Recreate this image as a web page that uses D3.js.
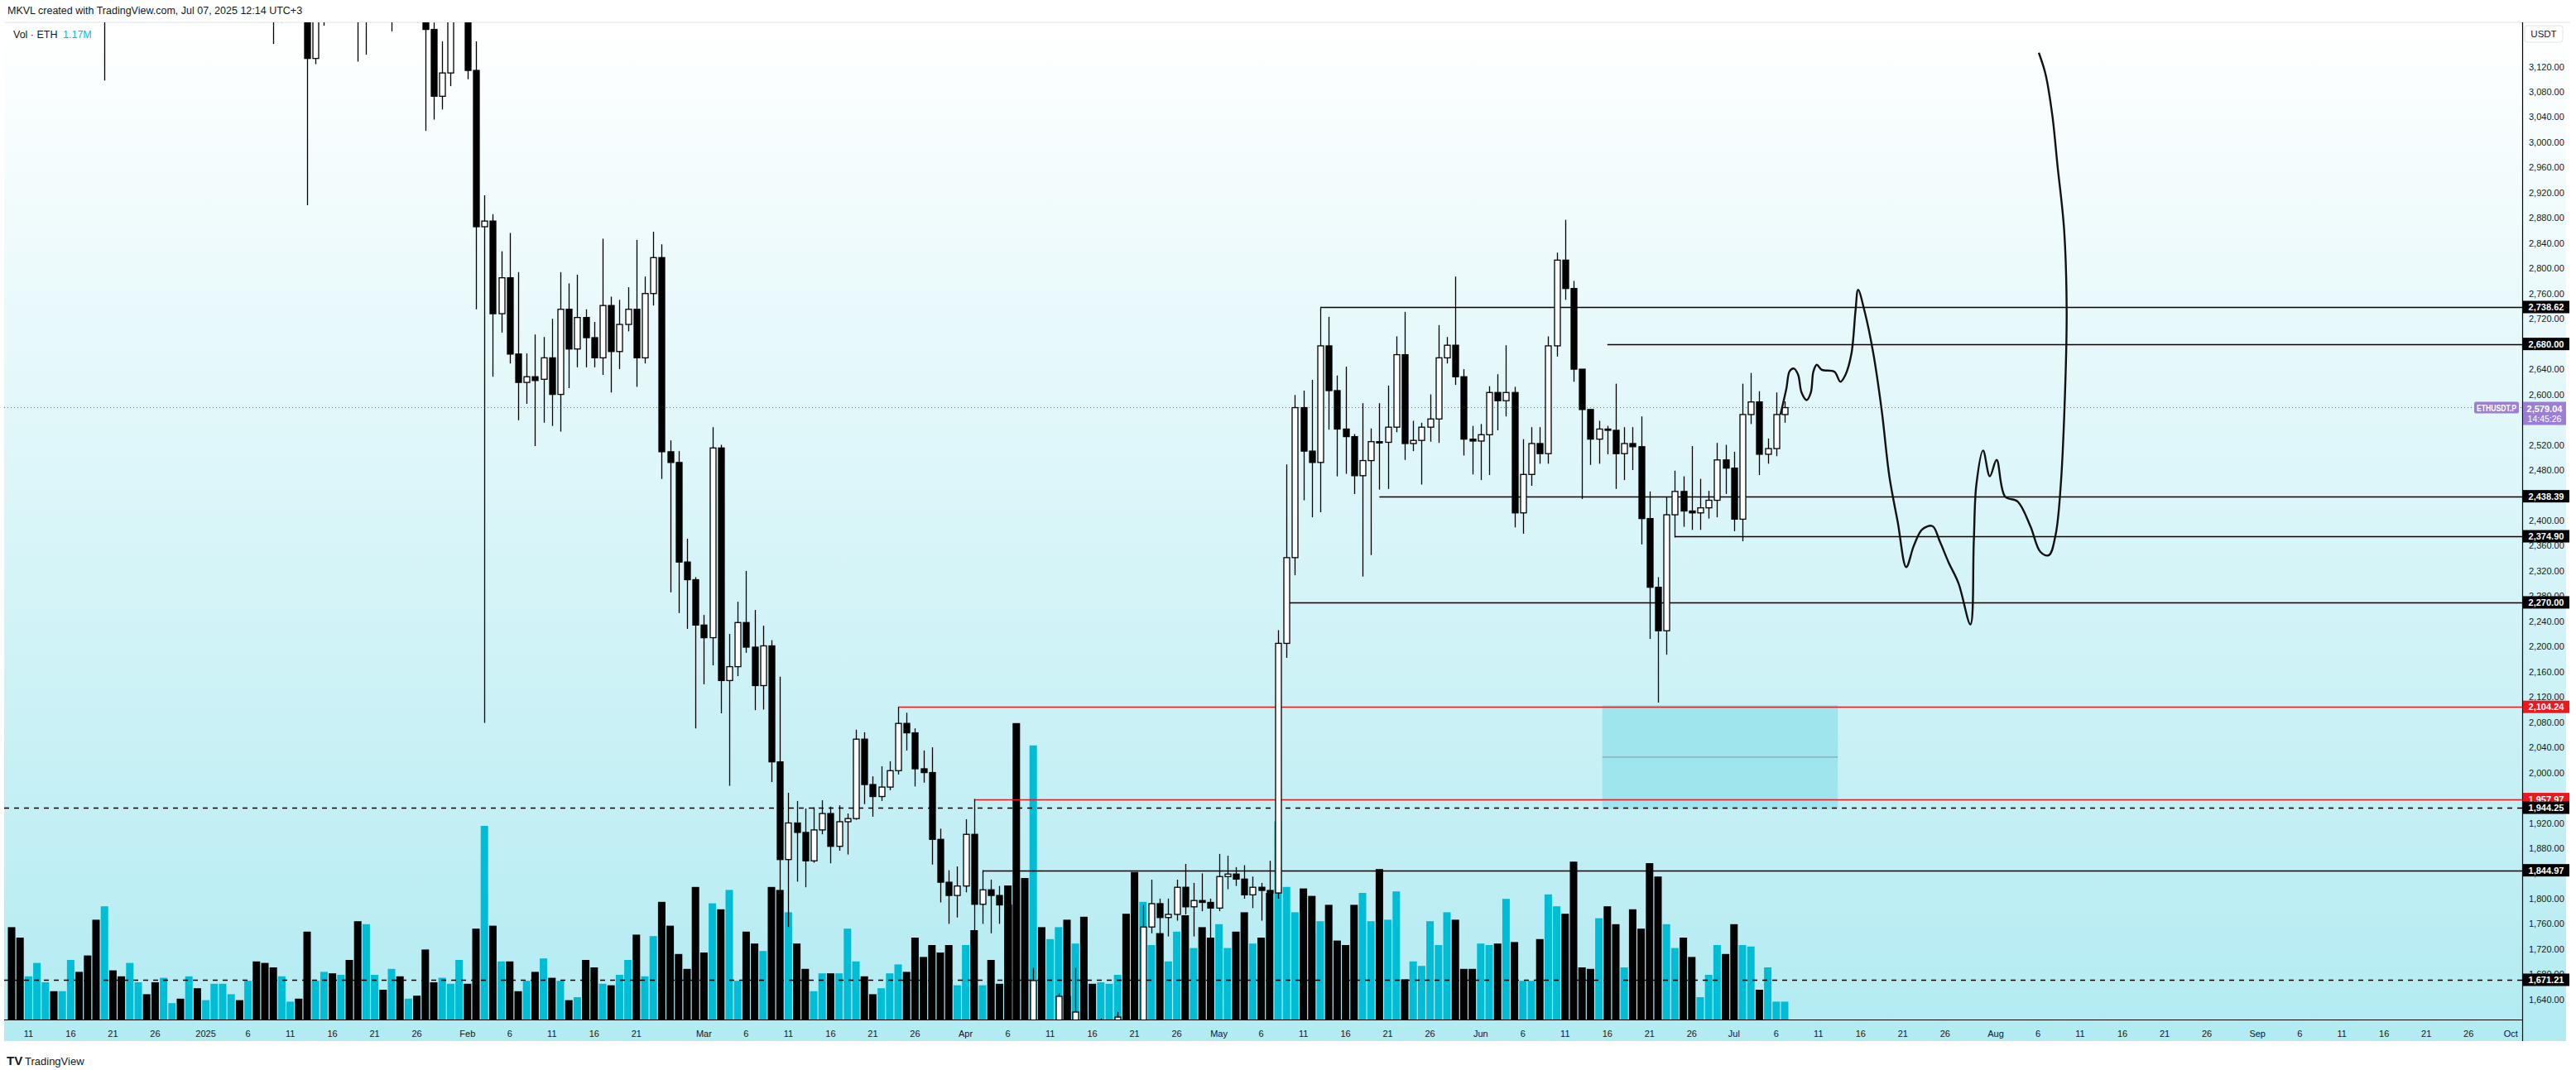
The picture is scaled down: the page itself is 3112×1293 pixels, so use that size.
<!DOCTYPE html>
<html>
<head>
<meta charset="utf-8">
<script src="https://cdn.jsdelivr.net/npm/d3@7"></script>
<style>
  body { margin: 0; background: #fff; }
  text { font-family: "Liberation Sans", "DejaVu Sans", sans-serif; }
</style>
</head>
<body>
<script>
// daily candles from 2024-12-09, [open, high, low, close]
var firstDay = new Date(2024, 11, 9);
var ohlc = [
  [4000,4010,3510,3710],[3710,3830,3515,3630],[3630,3850,3610,3835],[3835,3990,3830,3880],[3880,3945,3840,3905],
  [3905,3935,3850,3870],[3870,3970,3830,3960],[3960,4107,3910,3987],[3987,4045,3880,3890],[3890,3905,3620,3630],
  [3630,3710,3340,3420],[3420,3500,3098,3470],[3470,3560,3300,3330],[3330,3400,3240,3280],[3280,3455,3220,3420],
  [3420,3520,3380,3490],[3490,3505,3420,3480],[3480,3490,3300,3330],[3330,3460,3310,3330],[3330,3420,3320,3400],
  [3400,3410,3320,3355],[3355,3430,3300,3360],[3360,3425,3320,3330],[3330,3410,3320,3355],[3355,3490,3350,3450],
  [3450,3620,3440,3610],[3610,3670,3590,3660],[3660,3670,3600,3635],[3635,3740,3620,3690],[3690,3700,3355,3380],
  [3380,3410,3210,3325],[3325,3330,3156,3220],[3220,3320,3190,3265],[3265,3300,3230,3280],[3280,3300,3220,3265],
  [3265,3335,2900,3133],[3133,3240,3124,3225],[3225,3470,3185,3450],[3450,3460,3270,3310],[3310,3520,3300,3475],
  [3475,3490,3240,3300],[3300,3445,3128,3215],[3215,3450,3139,3280],[3280,3360,3210,3325],[3325,3370,3230,3240],
  [3240,3345,3176,3335],[3335,3430,3280,3310],[3310,3360,3290,3320],[3320,3350,3190,3240],[3240,3260,3018,3179],
  [3179,3190,3036,3073],[3073,3160,3052,3110],[3110,3280,3089,3250],[3250,3440,3250,3300],[3300,3320,3100,3114],
  [3114,3160,2735,2866],[2866,2916,2079,2875],[2875,2886,2628,2728],[2728,2827,2698,2785],[2785,2856,2649,2664],
  [2664,2794,2559,2619],[2619,2665,2585,2628],[2628,2695,2518,2622],[2624,2691,2555,2658],[2658,2720,2550,2600],
  [2600,2794,2541,2735],[2735,2776,2610,2672],[2672,2790,2643,2722],[2722,2735,2643,2690],[2690,2715,2643,2658],
  [2658,2847,2631,2741],[2741,2755,2603,2668],[2668,2750,2640,2711],[2711,2770,2700,2735],[2735,2845,2612,2658],
  [2658,2787,2649,2760],[2760,2858,2741,2817],[2817,2838,2466,2509],[2509,2527,2286,2492],[2492,2510,2253,2334],
  [2334,2371,2228,2306],[2306,2310,2070,2234],[2234,2250,2140,2214],[2214,2548,2170,2515],[2515,2520,2094,2146],
  [2146,2220,1979,2168],[2168,2271,2153,2238],[2238,2320,2190,2199],[2199,2258,2099,2138],[2138,2233,2100,2201],
  [2201,2210,1985,2017],[2017,2152,1781,1862],[1862,1968,1755,1920],[1920,1955,1827,1905],[1905,1943,1818,1860],
  [1860,1945,1857,1909],[1909,1956,1902,1935],[1935,1946,1856,1883],[1883,1948,1876,1922],[1922,1935,1870,1927],
  [1927,2068,1925,2053],[2053,2064,1950,1981],[1981,1994,1930,1962],[1962,2010,1955,1977],[1977,2018,1972,2003],
  [2003,2104,1997,2078],[2078,2095,2035,2063],[2063,2070,1978,2006],[2006,2035,1984,2000],[2000,2040,1854,1894],
  [1894,1911,1794,1826],[1826,1845,1760,1805],[1805,1851,1770,1820],[1820,1926,1810,1902],[1902,1958,1750,1791],
  [1791,1845,1760,1814],[1814,1830,1745,1805],[1805,1820,1760,1790],[1790,1815,1540,1580],[1580,1640,1410,1555],
  [1555,1620,1450,1470],[1470,1690,1385,1670],[1670,1675,1470,1520],[1520,1595,1500,1565],[1565,1650,1540,1645],
  [1645,1690,1570,1595],[1595,1690,1590,1620],[1620,1650,1575,1585],[1585,1610,1535,1577],[1577,1610,1565,1585],
  [1585,1600,1570,1590],[1590,1620,1585,1612],[1612,1618,1570,1587],[1587,1660,1570,1580],[1580,1790,1575,1755],
  [1755,1830,1745,1792],[1792,1800,1740,1770],[1770,1800,1740,1775],[1775,1830,1765,1818],[1818,1855,1775,1787],
  [1787,1825,1740,1797],[1797,1840,1780,1794],[1794,1800,1730,1785],[1785,1871,1780,1835],[1835,1868,1815,1839],
  [1839,1850,1820,1831],[1831,1853,1800,1806],[1806,1835,1785,1818],[1818,1825,1765,1813],[1813,1860,1780,1809],
  [1809,2226,1800,2205],[2205,2489,2182,2341],[2341,2599,2313,2579],[2579,2606,2432,2510],[2510,2623,2405,2492],
  [2492,2737,2413,2677],[2677,2723,2544,2606],[2606,2630,2470,2545],[2545,2644,2474,2533],[2533,2537,2442,2471],
  [2471,2586,2311,2495],[2495,2546,2345,2525],[2525,2586,2449,2524],[2524,2614,2450,2548],[2548,2692,2540,2663],
  [2663,2731,2496,2522],[2522,2558,2510,2527],[2527,2555,2457,2548],[2548,2600,2525,2561],[2561,2710,2523,2658],
  [2658,2691,2649,2678],[2678,2787,2615,2628],[2628,2640,2503,2529],[2529,2550,2473,2526],[2526,2553,2464,2536],
  [2536,2613,2472,2603],[2603,2632,2543,2590],[2590,2678,2565,2603],[2603,2612,2389,2412],[2412,2529,2379,2473],
  [2473,2548,2455,2522],[2522,2548,2490,2506],[2506,2692,2490,2677],[2677,2825,2660,2813],[2813,2877,2750,2768],
  [2768,2780,2620,2640],[2640,2640,2434,2576],[2576,2576,2488,2529],[2529,2558,2490,2545],[2545,2550,2505,2543],
  [2543,2617,2450,2506],[2506,2548,2464,2522],[2522,2548,2480,2517],[2517,2565,2362,2403],[2403,2446,2212,2294],
  [2294,2310,2111,2225],[2225,2438,2187,2409],[2409,2479,2373,2446],[2446,2470,2390,2415],[2415,2518,2385,2412],
  [2412,2466,2385,2420],[2420,2447,2403,2432],[2432,2523,2405,2496],[2496,2520,2442,2483],[2483,2509,2383,2402],
  [2402,2617,2367,2568],[2568,2634,2553,2588],[2588,2605,2472,2505],[2505,2530,2490,2514],[2514,2603,2502,2568],
  [2568,2589,2555,2579]
];
// volume bar tops, turned into million ETH
var volBarTops = [
  480,522,660,612,683,716,714,600,642,585,453,405,639,660,612,681,726,683,666,756,
  744,663,705,747,689,686,726,746,675,606,612,627,663,753,744,501,678,645,648,657,
  603,459,474,657,711,633,663,741,732,561,681,666,690,603,687,486,117,477,606,606,
  714,675,642,594,666,675,747,738,603,630,689,692,654,600,507,660,513,393,477,579,
  636,336,576,396,417,345,678,501,543,566,339,345,429,543,633,717,651,648,648,486,
  606,660,726,702,650,616,645,522,588,546,573,549,693,549,495,693,600,690,333,-260,
  306,-176,483,527,480,456,540,443,689,683,690,655,432,285,390,547,506,609,500,440,
  560,480,520,470,560,500,430,540,520,358,101,336,429,342,369,459,399,531,549,399,
  360,459,270,456,351,672,606,621,459,549,426,456,636,636,543,549,543,378,537,675,
  678,528,363,408,435,243,630,633,450,405,471,627,417,489,252,297,471,558,522,588,
  735,657,549,582,474,549,555,711,630,753,753
];
var volume = volBarTops.map(function (d) { return Math.round((817 - d) / 5.4) / 10; });

var priceTicks = d3.range(1640, 3121, 40);
var levels = [
  { price: 2738.62, from: 155, color: "#000", dash: null },
  { price: 2680.00, from: 189, color: "#000", dash: null },
  { price: 2438.39, from: 162, color: "#000", dash: null },
  { price: 2374.90, from: 197, color: "#000", dash: null },
  { price: 2270.00, from: 151, color: "#000", dash: null },
  { price: 2104.24, from: 105, color: "#f0161d", dash: null },
  { price: 1957.97, from: 114, color: "#f0161d", dash: null },
  { price: 1944.25, from: -1, color: "#000", dash: "6,6" },
  { price: 1844.97, from: 115, color: "#000", dash: null },
  { price: 1671.21, from: -1, color: "#000", dash: "6,6" }
];
var zone = { from: 188.4, to: 216.3, top: 2107, bottom: 1942 };
var lastPrice = 2579.04, countdown = "14:45:26";
// hand drawn projection: [day offset, price]
var sketch = [
  [209.5,2568],[210.2,2609],[210.6,2637],[211.1,2641],[211.6,2631],[212.0,2603],[212.6,2591],[213.1,2603],
  [213.4,2636],[213.8,2647],[214.4,2639],[215.9,2636],[216.6,2620],[217.2,2631],[217.9,2664],[218.4,2734],
  [218.7,2766],[219.5,2730],[220.5,2665],[221.5,2574],[222.4,2470],[223.4,2397],[224.4,2326],[225.3,2360],
  [226.3,2386],[227.5,2391],[228.4,2366],[229.4,2334],[230.6,2300],[232.0,2235],[232.4,2366],[232.7,2456],
  [233.5,2511],[234.3,2470],[235.1,2496],[236.1,2438],[237.6,2430],[239.1,2391],[240.3,2350],[241.3,2345],
  [242.1,2378],[242.7,2456],[243.2,2600],[243.4,2731],[243.1,2861],[242.3,2965],[241.7,3043],[240.9,3108],[240.1,3142]
];

var W = 3112, H = 1293;
var plotL = 5, plotR = 3047, plotT = 27, plotB = 1232;
var dayMs = 864e5;
function dayDate(i) { return new Date(firstDay.getTime() + i * dayMs); }

var x = d3.scaleTime().domain([firstDay, dayDate(300)]).range([14, 14 + 300 * 10.2]);
var y = d3.scaleLinear().domain([2738.62, 1671.21]).range([371, 1184]);
var yVol = d3.scaleLinear().domain([0, 1]).range([plotB, plotB - 18]);

var svg = d3.select("body").append("svg").attr("width", W).attr("height", H);
var defs = svg.append("defs");
var grad = defs.append("linearGradient").attr("id", "bg").attr("x1", 0).attr("y1", 0).attr("x2", 0).attr("y2", 1);
grad.append("stop").attr("offset", "0").attr("stop-color", "#ffffff");
grad.append("stop").attr("offset", "1").attr("stop-color", "#b2ebf2");
defs.append("clipPath").attr("id", "plot").append("rect")
  .attr("x", plotL).attr("y", plotT).attr("width", plotR - plotL).attr("height", plotB - plotT);

svg.append("rect").attr("x", plotL).attr("y", plotT).attr("width", 3100 - plotL).attr("height", 1258 - plotT)
  .attr("fill", "url(#bg)");
svg.append("line").attr("x1", plotL).attr("x2", 3105).attr("y1", plotT).attr("y2", plotT).attr("stroke", "#e0e3eb");

svg.append("text").attr("x", 9).attr("y", 17).attr("font-size", 12.5).attr("fill", "#131722")
  .text("MKVL created with TradingView.com, Jul 07, 2025 12:14 UTC+3");

var g = svg.append("g").attr("clip-path", "url(#plot)");

// volume
g.selectAll("rect.vol").data(volume).join("rect").attr("class", "vol")
  .attr("x", function (d, i) { return x(dayDate(i)) - 4.5; })
  .attr("width", 9)
  .attr("y", function (d) { return yVol(d); })
  .attr("height", function (d) { return plotB - yVol(d); })
  .attr("fill", function (d, i) { return ohlc[i][3] >= ohlc[i][0] ? "#00bcd4" : "#000"; });

// zone
g.append("rect").attr("x", x(dayDate(zone.from))).attr("width", x(dayDate(zone.to)) - x(dayDate(zone.from)))
  .attr("y", y(zone.top)).attr("height", y(zone.bottom) - y(zone.top)).attr("fill", "#9fe5ed");
g.append("line").attr("x1", x(dayDate(zone.from))).attr("x2", x(dayDate(zone.to)))
  .attr("y1", y((zone.top + zone.bottom) / 2)).attr("y2", y((zone.top + zone.bottom) / 2))
  .attr("stroke", "#7a9aa0").attr("stroke-width", 1);

// last price dotted line
g.append("line").attr("x1", plotL).attr("x2", plotR).attr("y1", y(lastPrice)).attr("y2", y(lastPrice))
  .attr("stroke", "#7e57c2").attr("stroke-dasharray", "1,3").attr("stroke-width", 1);

// levels
g.selectAll("line.lvl").data(levels).join("line").attr("class", "lvl")
  .attr("x1", function (d) { return d.from < 0 ? plotL : x(dayDate(d.from)); })
  .attr("x2", plotR)
  .attr("y1", function (d) { return Math.round(y(d.price)) + 0.5; })
  .attr("y2", function (d) { return Math.round(y(d.price)) + 0.5; })
  .attr("stroke", function (d) { return d.color; })
  .attr("stroke-width", 1.5)
  .attr("stroke-dasharray", function (d) { return d.dash; });

// candles
var c = g.selectAll("g.c").data(ohlc).join("g").attr("class", "c");
c.append("line")
  .attr("x1", function (d, i) { return Math.round(x(dayDate(i))) + 0.5; })
  .attr("x2", function (d, i) { return Math.round(x(dayDate(i))) + 0.5; })
  .attr("y1", function (d) { return y(d[1]); })
  .attr("y2", function (d) { return y(d[2]); })
  .attr("stroke", "#000").attr("stroke-width", 1.3);
c.append("rect")
  .attr("x", function (d, i) { return Math.round(x(dayDate(i))) - 3; })
  .attr("width", 7)
  .attr("y", function (d) { return y(Math.max(d[0], d[3])); })
  .attr("height", function (d) { return Math.max(1.5, Math.abs(y(d[0]) - y(d[3]))); })
  .attr("fill", function (d) { return d[3] >= d[0] ? "#fff" : "#000"; })
  .attr("stroke", "#000").attr("stroke-width", 1.3);

// sketch
g.append("path").datum(sketch)
  .attr("d", d3.line().x(function (d) { return x(dayDate(d[0])); }).y(function (d) { return y(d[1]); })
    .curve(d3.curveCatmullRom))
  .attr("fill", "none").attr("stroke", "#111").attr("stroke-width", 2.4);

// legend
svg.append("text").attr("x", 16).attr("y", 46).attr("font-size", 12.5).attr("fill", "#131722").text("Vol · ETH");
svg.append("text").attr("x", 76).attr("y", 46).attr("font-size", 12.5).attr("fill", "#00bcd4").text("1.17M");

// price axis
svg.append("line").attr("x1", plotR + 0.5).attr("x2", plotR + 0.5).attr("y1", plotT).attr("y2", 1258)
  .attr("stroke", "#000").attr("stroke-width", 1.2);
var fmt = d3.format(",.2f");
svg.selectAll("text.pt").data(priceTicks).join("text").attr("class", "pt")
  .attr("x", 3055).attr("y", function (d) { return y(d) + 4; })
  .attr("font-size", 11).attr("fill", "#131722").text(fmt);
svg.append("rect").attr("x", 3050).attr("y", 31).attr("width", 46).attr("height", 20).attr("rx", 3)
  .attr("fill", "#fff").attr("stroke", "#e0e3eb");
svg.append("text").attr("x", 3073).attr("y", 45).attr("text-anchor", "middle").attr("font-size", 11.5)
  .attr("fill", "#131722").text("USDT");

var lab = svg.selectAll("g.lab").data(levels).join("g").attr("class", "lab");
lab.append("rect").attr("x", plotR + 1).attr("width", 56).attr("height", 15)
  .attr("y", function (d) { return y(d.price) - 7.5; })
  .attr("fill", function (d) { return d.color === "#000" ? "#000" : "#f0161d"; });
lab.append("text").attr("x", plotR + 29).attr("text-anchor", "middle")
  .attr("y", function (d) { return y(d.price) + 4; })
  .attr("font-size", 11).attr("font-weight", "bold").attr("fill", "#fff")
  .text(function (d) { return fmt(d.price); });

var lp = y(lastPrice);
svg.append("rect").attr("x", plotR + 1).attr("y", lp - 7).attr("width", 52).attr("height", 28).attr("fill", "#9c7fd4");
svg.append("text").attr("x", plotR + 27).attr("y", lp + 5).attr("text-anchor", "middle").attr("font-size", 11)
  .attr("font-weight", "bold").attr("fill", "#fff").text(fmt(lastPrice));
svg.append("text").attr("x", plotR + 27).attr("y", lp + 17).attr("text-anchor", "middle").attr("font-size", 10.5)
  .attr("fill", "#fff").text(countdown);
svg.append("rect").attr("x", plotR - 58).attr("y", lp - 7).attr("width", 54).attr("height", 14).attr("rx", 2)
  .attr("fill", "#9c7fd4");
svg.append("text").attr("x", plotR - 55).attr("y", lp + 4).attr("font-size", 10)
  .attr("font-weight", "bold").attr("fill", "#fff")
  .attr("textLength", 48).attr("lengthAdjust", "spacingAndGlyphs").text("ETHUSDT.P");

// time axis
svg.append("line").attr("x1", plotL).attr("x2", plotR).attr("y1", plotB + 0.5).attr("y2", plotB + 0.5)
  .attr("stroke", "#000").attr("stroke-width", 1.2);
var monthNames = ["Jan","Feb","Mar","Apr","May","Jun","Jul","Aug","Sep","Oct","Nov","Dec"];
var timeTicks = [];
d3.timeDay.range(new Date(2024, 11, 10), new Date(2025, 9, 2)).forEach(function (d) {
  var day = d.getDate();
  var dim = new Date(d.getFullYear(), d.getMonth() + 1, 0).getDate();
  if (day === 1) timeTicks.push({ date: d, label: d.getMonth() === 0 ? String(d.getFullYear()) : monthNames[d.getMonth()] });
  else if ([6, 11, 16, 21].indexOf(day) >= 0 || (day === 26 && dim >= 30)) timeTicks.push({ date: d, label: String(day) });
});
svg.selectAll("text.tt").data(timeTicks).join("text").attr("class", "tt")
  .attr("x", function (d) { return x(d.date); }).attr("y", 1253)
  .attr("text-anchor", "middle").attr("font-size", 11).attr("fill", "#131722")
  .text(function (d) { return d.label; });

// footer logo
svg.append("text").attr("x", 8).attr("y", 1287).attr("font-size", 15).attr("font-weight", "bold")
  .attr("fill", "#131722").text("TV");
svg.append("text").attr("x", 30).attr("y", 1287).attr("font-size", 13).attr("fill", "#131722").text("TradingView");
</script>
</body>
</html>
